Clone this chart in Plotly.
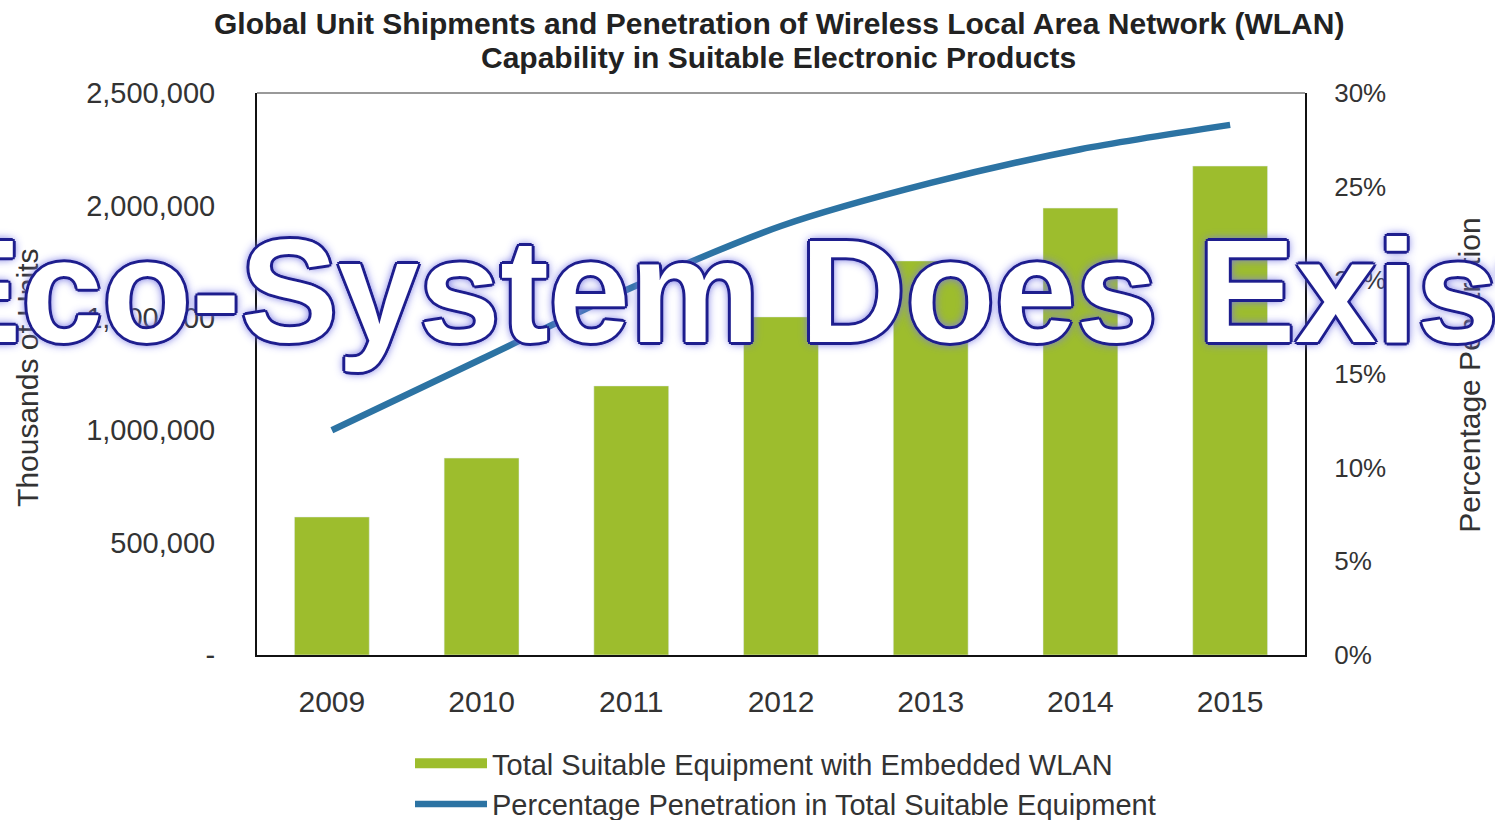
import plotly.graph_objects as go

years = ["2009", "2010", "2011", "2012", "2013", "2014", "2015"]
shipments = [614000, 876000, 1197000, 1504000, 1753000, 1988000, 2175000]
penetration = [12.0, 15.8, 19.6, 22.9, 25.2, 27.0, 28.3]

left_tickvals = [0, 500000, 1000000, 1500000, 2000000, 2500000]
left_ticktext = ["-", "500,000", "1,000,000", "1,500,000", "2,000,000", "2,500,000"]
right_tickvals = [0, 5, 10, 15, 20, 25, 30]
right_ticktext = ["0%", "5%", "10%", "15%", "20%", "25%", "30%"]

title_line1 = "Global Unit Shipments and Penetration of Wireless Local Area Network (WLAN)"
title_line2 = "Capability in Suitable Electronic Products"
bar_name = "Total Suitable Equipment with Embedded WLAN"
line_name = "Percentage Penetration in Total Suitable Equipment"
overlay_text = "Eco-System Does Exist"

BAR_COLOR = "#9dbd2d"
LINE_COLOR = "#2c73a3"
TEXT_COLOR = "#333333"
FONT = "Liberation Sans, Arial, sans-serif"

fig = go.Figure()
fig.add_trace(go.Bar(x=years, y=shipments, name=bar_name, marker=dict(color=BAR_COLOR),
                     width=0.5, yaxis="y", showlegend=False))
# legend proxy for the bar series (wide swatch like the original)
fig.add_trace(go.Scatter(x=[None], y=[None], name=bar_name, mode="lines",
                         line=dict(color=BAR_COLOR, width=13), yaxis="y"))
fig.add_trace(go.Scatter(x=years, y=penetration, name=line_name, mode="lines",
                         line=dict(color=LINE_COLOR, width=6.5, shape="spline", smoothing=0.8),
                         yaxis="y2"))

outline = "#1e1e8e"
shadow = ", ".join([f"{dx}px {dy}px 0 {outline}" for dx, dy in
                    [(-2, -2), (2, -2), (-2, 2), (2, 2), (0, -3), (0, 3), (-3, 0), (3, 0)]]
                   + ["0 0 9px #6a6ae0", "0 0 12px #8c8ce8"])

fig.update_layout(
    width=1495, height=820,
    margin=dict(l=257, r=190, t=93, b=165, autoexpand=False),
    paper_bgcolor="white", plot_bgcolor="white",
    font=dict(family=FONT, color=TEXT_COLOR),
    xaxis=dict(showline=True, linecolor="#111111", linewidth=2, showgrid=False,
               tickfont=dict(size=30, color=TEXT_COLOR), ticks="", ticklabelstandoff=19),
    yaxis=dict(range=[0, 2500000], tickvals=left_tickvals, ticktext=left_ticktext,
               showgrid=False, showline=True, linecolor="#111111", linewidth=2,
               tickfont=dict(size=29, color=TEXT_COLOR), ticks="", ticklabelstandoff=34,
               zeroline=False),
    yaxis2=dict(range=[0, 30], tickvals=right_tickvals, ticktext=right_ticktext,
                overlaying="y", side="right", showgrid=False, showline=True,
                linecolor="#111111", linewidth=2, tickfont=dict(size=26, color=TEXT_COLOR),
                ticks="", ticklabelstandoff=22, zeroline=False),
    legend=dict(orientation="v", x=0.146, xanchor="left", xref="paper",
                y=0.1, yanchor="top", yref="container",
                font=dict(size=29, color=TEXT_COLOR), itemwidth=72, tracegroupgap=0,
                bgcolor="rgba(0,0,0,0)"),
    showlegend=True,
    shapes=[dict(type="line", xref="paper", yref="paper", x0=0, x1=1, y0=1, y1=1,
                 line=dict(color="#999999", width=2))],
    annotations=[
        dict(text=title_line1, xref="paper", yref="paper", x=0.498, y=1.1228,
             xanchor="center", yanchor="middle", showarrow=False,
             font=dict(size=30, color="#222222", weight="bold")),
        dict(text=title_line2, xref="paper", yref="paper", x=0.498, y=1.0623,
             xanchor="center", yanchor="middle", showarrow=False,
             font=dict(size=30, color="#222222", weight="bold")),
        dict(text="Thousands of Units", xref="paper", yref="paper", x=-0.2185, y=0.493,
             xanchor="center", yanchor="middle", textangle=-90, showarrow=False,
             font=dict(size=30, color=TEXT_COLOR)),
        dict(text="Percentage Penetration", xref="paper", yref="paper", x=1.157, y=0.498,
             xanchor="center", yanchor="middle", textangle=-90, showarrow=False,
             font=dict(size=30, color=TEXT_COLOR)),
        dict(text=overlay_text, xref="paper", yref="paper", x=0.457, y=0.646,
             xanchor="center", yanchor="middle", showarrow=False,
             font=dict(family="Liberation Sans, Arial", size=146, color="white",
                       weight="bold", shadow=shadow)),
    ],
)

fig.write_html("out.html")
